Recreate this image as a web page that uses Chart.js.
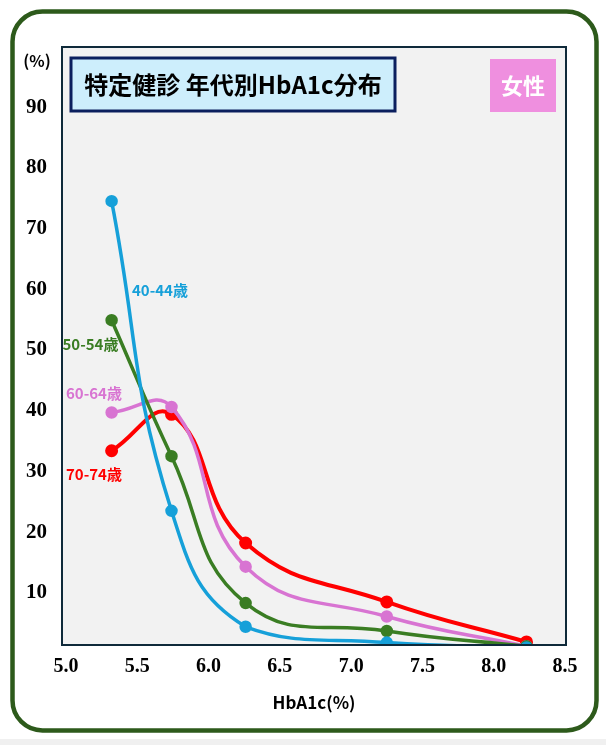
<!DOCTYPE html>
<html>
<head>
<meta charset="utf-8">
<script src="https://cdn.jsdelivr.net/npm/chart.js@4"></script>
<style>
    html, body { margin: 0; padding: 0; background: #ffffff; }
    #wrap { position: relative; width: 606px; height: 745px; }
</style>
</head>
<body>
<div id="wrap"><canvas id="hba1cChart" width="606" height="745"></canvas></div>
<script>
const hba1c = [5.32, 5.74, 6.26, 7.25, 8.23];
const age4044 = [74.1, 23.1, 4.0, 1.4, 0.6];
const age5054 = [54.5, 32.1, 7.9, 3.3, 0.8];
const age6064 = [39.3, 40.2, 13.9, 5.7, 0.8];
const age7074 = [33.0, 39.0, 17.8, 8.1, 1.5];
const seriesNames = ['40-44歳', '50-54歳', '60-64歳', '70-74歳'];
const xTicks = [5.0, 5.5, 6.0, 6.5, 7.0, 7.5, 8.0, 8.5];
const yTicks = [10, 20, 30, 40, 50, 60, 70, 80, 90];

const colors = ['#16a0d9', '#3a7d23', '#d874d2', '#ff0000'];
const jp = '"Noto Sans CJK JP", "Noto Sans", sans-serif';

function points(values) {
    return hba1c.map((x, i) => ({ x: x, y: values[i] }));
}

// frame, plot background and the extra texts
const decor = {
    id: 'decor',
    beforeDraw(chart) {
        const ctx = chart.ctx;
        const a = chart.chartArea;
        ctx.save();
        ctx.fillStyle = '#f0f0f0';
        ctx.fillRect(0, 739, 606, 6);
        ctx.strokeStyle = '#2d5a1b';
        ctx.lineWidth = 4.5;
        ctx.beginPath();
        ctx.roundRect(12.5, 11.5, 584, 719, 30);
        ctx.stroke();
        ctx.fillStyle = '#f2f2f2';
        ctx.fillRect(a.left, a.top, a.right - a.left, a.bottom - a.top);
        ctx.restore();
    },
    afterDraw(chart) {
        const ctx = chart.ctx;
        const a = chart.chartArea;
        const xs = chart.scales.x;
        const ys = chart.scales.y;
        ctx.save();
        ctx.strokeStyle = '#0f2a3a';
        ctx.lineWidth = 2;
        ctx.strokeRect(a.left, a.top, a.right - a.left, a.bottom - a.top);

        // title box
        ctx.fillStyle = '#cdeefc';
        ctx.fillRect(71, 58, 324, 53);
        ctx.strokeStyle = '#0b1f5e';
        ctx.lineWidth = 3;
        ctx.strokeRect(71, 58, 324, 53);
        ctx.fillStyle = '#000000';
        ctx.font = 'bold 24px ' + jp;
        ctx.textAlign = 'center';
        ctx.textBaseline = 'middle';
        ctx.fillText('特定健診 年代別HbA1c分布', 233, 85);

        // 女性 badge
        ctx.fillStyle = '#ef8fdf';
        ctx.fillRect(490, 59, 66, 53);
        ctx.fillStyle = '#ffffff';
        ctx.font = 'bold 22px ' + jp;
        ctx.fillText('女性', 523, 86);

        // axis captions
        ctx.fillStyle = '#000000';
        ctx.font = 'bold 16px ' + jp;
        ctx.fillText('(%)', 37, 61);
        ctx.font = 'bold 17px ' + jp;
        ctx.fillText('HbA1c(%)', (a.left + a.right) / 2, 703);

        // series labels
        const labelPos = [[5.463, 59.5], [4.975, 50.6], [5.0, 42.5], [5.0, 29.1]];
        ctx.font = 'bold 15px ' + jp;
        ctx.textAlign = 'left';
        seriesNames.forEach((name, i) => {
            ctx.fillStyle = colors[i];
            ctx.fillText(name, xs.getPixelForValue(labelPos[i][0]), ys.getPixelForValue(labelPos[i][1]));
        });
        ctx.restore();
    }
};

const series = [age4044, age5054, age6064, age7074];

new Chart(document.getElementById('hba1cChart'), {
    type: 'line',
    data: {
        datasets: series.map((values, i) => ({
            label: seriesNames[i],
            data: points(values),
            borderColor: colors[i],
            backgroundColor: colors[i],
            borderWidth: i === 3 ? 4 : 3.5,
            pointRadius: 4.5,
            pointHoverRadius: 4.5,
            tension: 0.45
        }))
    },
    options: {
        responsive: false,
        animation: false,
        events: [],
        layout: {
            padding: { left: 0, top: 47, right: 40, bottom: 0 }
        },
        plugins: {
            legend: { display: false },
            tooltip: { enabled: false }
        },
        scales: {
            x: {
                type: 'linear',
                min: 4.972,
                max: 8.507,
                grid: { display: false, drawTicks: false },
                border: { display: false },
                afterBuildTicks: (scale) => { scale.ticks = xTicks.map(v => ({ value: v })); },
                afterFit: (scale) => { scale.height = 100; },
                ticks: {
                    padding: 10,
                    maxRotation: 0,
                    color: '#000000',
                    font: { family: '"Liberation Serif", serif', size: 20, weight: 'bold' },
                    callback: (v) => v.toFixed(1)
                }
            },
            y: {
                min: 1,
                max: 99.5,
                grid: { display: false, drawTicks: false },
                border: { display: false },
                afterBuildTicks: (scale) => { scale.ticks = yTicks.map(v => ({ value: v })); },
                afterFit: (scale) => { scale.width = 62; },
                ticks: {
                    padding: 15,
                    labelOffset: 2.5,
                    color: '#000000',
                    font: { family: '"Liberation Serif", serif', size: 21, weight: 'bold' }
                }
            }
        }
    },
    plugins: [decor]
});
</script>
</body>
</html>
